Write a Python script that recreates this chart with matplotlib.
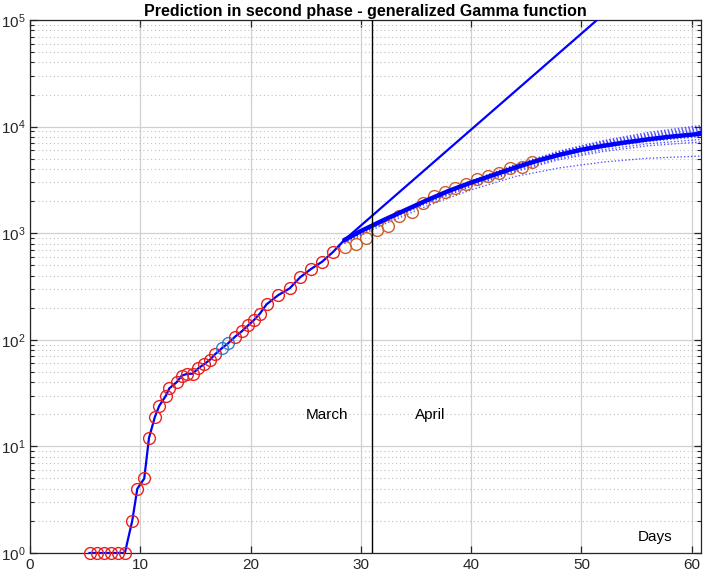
import numpy as np
import matplotlib
matplotlib.use("Agg")
import matplotlib.pyplot as plt
from matplotlib.ticker import LogLocator, FixedLocator, NullFormatter

plt.rcParams['font.family'] = ['Liberation Sans', 'DejaVu Sans']

# ---- data ----
red_x = [5.4, 6.05, 6.7, 7.35, 8.0, 8.6, 9.27, 9.73, 10.36, 10.79, 11.33, 11.72,
         12.33, 12.63, 13.3, 13.75, 14.26, 14.75, 15.26, 15.78, 16.32, 16.77]
red_y = [1, 1, 1, 1, 1, 1, 2, 4, 5, 12, 19, 24, 30, 35, 40, 46, 48, 48, 54, 59, 65, 73]
blue_x = [17.38, 17.98]
blue_y = [83, 93]
red2_x = [18.6, 19.2, 19.8, 20.3, 20.85, 21.45, 22.5, 23.55, 24.5, 25.5, 26.5, 27.5]
red2_y = [107, 120, 137, 153, 176, 215, 262, 304, 386, 463, 541, 670]
orange_x = [28.55, 29.55, 30.5, 31.5, 32.5, 33.5, 34.6, 35.6, 36.6, 37.6, 38.5,
            39.5, 40.5, 41.5, 42.5, 43.5, 44.6, 45.5]
orange_y = [750, 788, 896, 1062, 1167, 1449, 1591, 1907, 2233, 2449, 2650,
            2896, 3206, 3443, 3700, 4067, 4209, 4690]

fit_x = [28.5, 30, 32, 34, 36, 38, 40, 42, 44, 46, 48, 50, 52, 54, 56, 58, 61]
fit_y = [863, 1047, 1318, 1640, 2040, 2500, 2985, 3508, 4121, 4786, 5433, 6067,
         6607, 7112, 7586, 8035, 8600]

exp_x = [28.5, 55.0]
exp_y = [863, 210000]

band_x = [28.5, 32, 36, 40, 44, 48, 52, 56, 61]
band_curves = [
    [850, 1330, 2100, 3100, 4400, 5900, 7400, 8800, 10300],
    [850, 1325, 2085, 3060, 4330, 5800, 7250, 8550, 10000],
    [850, 1320, 2070, 3030, 4280, 5700, 7100, 8350, 9700],
    [850, 1315, 2060, 3010, 4240, 5630, 6970, 8170, 9450],
    [850, 1310, 2050, 2990, 4200, 5570, 6850, 8000, 9200],
    [845, 1300, 2020, 2930, 4080, 5350, 6480, 7420, 8300],
    [840, 1290, 1990, 2880, 4000, 5250, 6350, 7250, 8100],
    [830, 1270, 1950, 2800, 3880, 5050, 6080, 6900, 7600],
    [820, 1250, 1910, 2740, 3780, 4900, 5850, 6600, 7200],
    [800, 1200, 1800, 2550, 3400, 4100, 4650, 5050, 5300],
]

march_line_x = 31
xticks = [0, 10, 20, 30, 40, 50, 60]

fig = plt.figure(figsize=(7.05, 5.77), dpi=100)
ax = fig.add_axes([30/705, 1-553/577, 671/705, 533/577])

ax.set_yscale('log')
ax.set_xlim(0, 60.85)
ax.set_ylim(1, 1e5)

# band of dotted curves
for c in band_curves:
    ax.plot(band_x, c, ls=(0, (1, 1.5)), color='#0000ff', lw=1.0, alpha=0.65)

# data line through measured points up to the fit start
line_x = red_x + blue_x + red2_x + [fit_x[0]]
line_y = red_y + blue_y + red2_y + [fit_y[0]]
ax.plot(line_x, line_y, color='#0000ff', lw=1.6, zorder=3)

# exponential extrapolation
ax.plot(exp_x, exp_y, color='#0000ff', lw=1.6, zorder=3)
# fit curve
ax.plot(fit_x, fit_y, color='#0000ff', lw=3.2, zorder=3, solid_capstyle='round')

ms = 8.5
ax.plot(red_x, red_y, 'o', mfc='none', mec='#e8201e', ms=ms, mew=1.0, zorder=4, clip_on=False)
ax.plot(blue_x, blue_y, 'o', mfc='none', mec='#3a78c8', ms=ms, mew=1.0, zorder=4)
ax.plot(red2_x, red2_y, 'o', mfc='none', mec='#e8201e', ms=ms, mew=1.0, zorder=4)
ax.plot(orange_x, orange_y, 'o', mfc='none', mec='#c8602a', ms=ms, mew=1.0, zorder=2)

ax.axvline(march_line_x, color='black', lw=1.0, zorder=5)

ax.text(26.9, 19.5, 'March', fontsize=11, ha='center', va='center')
ax.text(36.3, 19.5, 'April', fontsize=11, ha='center', va='center')
ax.text(56.7, 1.42, 'Days', fontsize=11, ha='center', va='center')

ax.set_title('Prediction in second phase - generalized Gamma function',
             fontsize=11.5, fontweight='bold', pad=3)

ax.xaxis.set_major_locator(FixedLocator(xticks))
ax.yaxis.set_major_locator(LogLocator(base=10, numticks=10))
ax.yaxis.set_minor_locator(LogLocator(base=10, subs=np.arange(2, 10), numticks=20))
ax.yaxis.set_minor_formatter(NullFormatter())

ax.grid(True, which='major', color='#d0d0d0', lw=0.9, ls='-')
ax.grid(True, which='minor', axis='y', color='#c0c0c0', lw=0.8, ls=(0, (1, 2.5)))
ax.set_axisbelow(True)

ax.tick_params(which='both', direction='in', top=True, right=True,
               labelsize=11, colors='#262626')
ax.tick_params(which='major', length=5, width=0.9)
ax.tick_params(which='minor', length=3, width=0.8)
for s in ax.spines.values():
    s.set_color('#262626')
    s.set_linewidth(0.9)

fig.savefig('out.png', dpi=100)
